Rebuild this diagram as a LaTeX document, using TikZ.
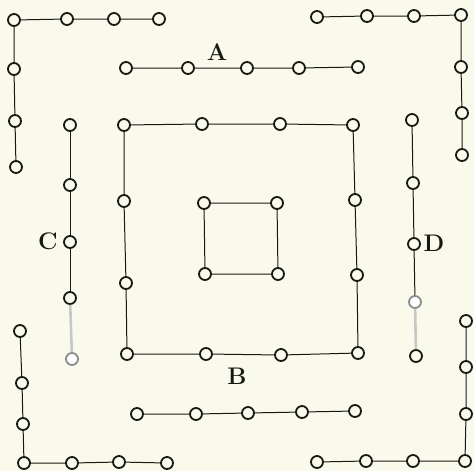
\documentclass[tikz,border=0pt]{standalone}
\usetikzlibrary{positioning}
\definecolor{paper}{RGB}{250,250,236}
\definecolor{ink}{RGB}{25,25,20}
\tikzset{
  peg/.style={circle, draw=ink, fill=paper, line width=0.9pt, inner sep=0pt, minimum size=6pt},
  paleink/.style={peg, draw=black!45, fill=white},
  wire/.style={line width=0.5pt, color=ink},
  palewire/.style={line width=1.3pt, color=black!22},
  tag/.style={font=\fontsize{12}{14}\selectfont\bfseries, text=ink, inner sep=0pt}
}
\begin{document}
\begin{tikzpicture}[x=0.5pt, y=-0.5pt]
  \fill[paper] (0,0) rectangle (474,471);

  % upper left bracket
  \node[peg] (nw1) at (159,19) {};  \node[peg] (nw2) at (114,19) {};
  \node[peg] (nw3) at (67,19) {};   \node[peg] (nw4) at (14,20) {};
  \node[peg] (nw5) at (14,69) {};   \node[peg] (nw6) at (15,121) {};
  \node[peg] (nw7) at (16,167) {};

  % upper right bracket
  \node[peg] (ne1) at (317,17) {};  \node[peg] (ne2) at (367,16) {};
  \node[peg] (ne3) at (414,16) {};  \node[peg] (ne4) at (461,15) {};
  \node[peg] (ne5) at (461,67) {};  \node[peg] (ne6) at (462,113) {};
  \node[peg] (ne7) at (462,155) {};

  % lower left bracket
  \node[peg] (sw1) at (20,331) {};  \node[peg] (sw2) at (22,383) {};
  \node[peg] (sw3) at (23,424) {};  \node[peg] (sw4) at (24,463) {};
  \node[peg] (sw5) at (72,463) {};  \node[peg] (sw6) at (119,462) {};
  \node[peg] (sw7) at (167,463) {};

  % lower right bracket
  \node[peg] (se1) at (466,321) {}; \node[peg] (se2) at (466,367) {};
  \node[peg] (se3) at (466,414) {}; \node[peg] (se4) at (465,461) {};
  \node[peg] (se5) at (413,461) {}; \node[peg] (se6) at (366,461) {};
  \node[peg] (se7) at (317,462) {};

  % row A
  \node[peg] (a1) at (126,68) {};  \node[peg] (a2) at (188,68) {};
  \node[peg] (a3) at (247,68) {};  \node[peg] (a4) at (299,68) {};
  \node[peg] (a5) at (358,67) {};
  \node[tag] (labA) at (217,52) {A};

  % row below B
  \node[peg] (b1) at (137,414) {}; \node[peg] (b2) at (196,414) {};
  \node[peg] (b3) at (248,413) {}; \node[peg] (b4) at (302,412) {};
  \node[peg] (b5) at (355,411) {};
  \node[tag] (labB) at (237,376) {B};

  % column C
  \node[peg] (c1) at (70,125) {};  \node[peg] (c2) at (70,185) {};
  \node[peg] (c3) at (70,242) {};  \node[peg] (c4) at (70,298) {};
  \node[paleink] (c5) at (72,359) {};
  \node[tag] (labC) at (48,241) {C};

  % column D
  \node[peg] (d1) at (412,120) {}; \node[peg] (d2) at (413,183) {};
  \node[peg] (d3) at (414,244) {}; \node[paleink] (d4) at (415,302) {};
  \node[peg] (d5) at (416,356) {};
  \node[tag] (labD) at (434,243) {D};

  % outer square
  \node[peg] (o1) at (124,125) {};  \node[peg] (o2) at (202,124) {};
  \node[peg] (o3) at (280,124) {};  \node[peg] (o4) at (353,125) {};
  \node[peg] (o5) at (355,200) {};  \node[peg] (o6) at (357,275) {};
  \node[peg] (o7) at (358,353) {};  \node[peg] (o8) at (281,355) {};
  \node[peg] (o9) at (206,354) {};  \node[peg] (o10) at (127,354) {};
  \node[peg] (o11) at (126,283) {}; \node[peg] (o12) at (124,201) {};

  % inner square
  \node[peg] (i1) at (204,203) {}; \node[peg] (i2) at (277,203) {};
  \node[peg] (i3) at (278,274) {}; \node[peg] (i4) at (205,274) {};

  \draw[wire] (nw1) -- (nw2) -- (nw3) -- (nw4) -- (nw5) -- (nw6) -- (nw7);
  \draw[wire] (ne1) -- (ne2) -- (ne3) -- (ne4) -- (ne5) -- (ne6) -- (ne7);
  \draw[wire] (sw1) -- (sw2) -- (sw3) -- (sw4) -- (sw5) -- (sw6) -- (sw7);
  \draw[wire] (se1) -- (se2) -- (se3) -- (se4) -- (se5) -- (se6) -- (se7);
  \draw[wire] (a1) -- (a2) -- (a3) -- (a4) -- (a5);
  \draw[wire] (b1) -- (b2) -- (b3) -- (b4) -- (b5);
  \draw[wire] (c1) -- (c2) -- (c3) -- (c4);
  \draw[palewire] (c4) -- (c5);
  \draw[wire] (d1) -- (d2) -- (d3) -- (d4);
  \draw[palewire] (d4) -- (d5);
  \draw[wire] (o1) -- (o2) -- (o3) -- (o4) -- (o5) -- (o6) -- (o7)
              -- (o8) -- (o9) -- (o10) -- (o11) -- (o12) -- (o1);
  \draw[wire] (i1) -- (i2) -- (i3) -- (i4) -- (i1);
\end{tikzpicture}
\end{document}
